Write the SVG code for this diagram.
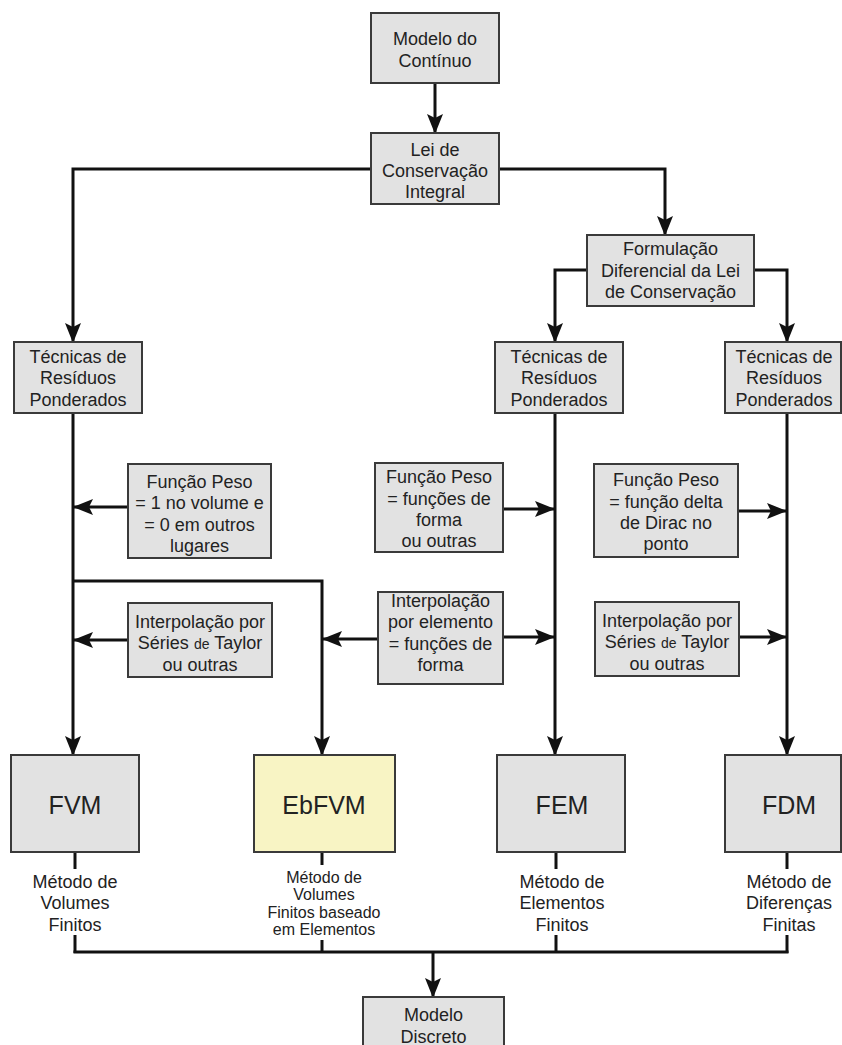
<svg xmlns="http://www.w3.org/2000/svg" width="842" height="1045" viewBox="0 0 842 1045">
  <style>
    .box { fill: #e2e2e2; stroke: #3a3a3a; stroke-width: 2; }
    .hl { fill: #f8f4c4; stroke: #3a3a3a; stroke-width: 2; }
    .t { font-family: "Liberation Sans", Arial, sans-serif; font-size: 18px; fill: #222; text-anchor: middle; }
    .big { font-family: "Liberation Sans", Arial, sans-serif; font-size: 25px; fill: #222; text-anchor: middle; }
    .sm { font-family: "Liberation Sans", Arial, sans-serif; font-size: 16px; fill: #222; text-anchor: middle; }
    .de { font-size: 14px; }
    .ln { fill: none; stroke: #111; stroke-width: 3; }
    .arr { fill: none; stroke: #111; stroke-width: 3; marker-end: url(#head); }
  </style>
  <defs>
    <marker id="head" viewBox="0 0 20 16" refX="19" refY="8" markerWidth="20" markerHeight="16" markerUnits="userSpaceOnUse" orient="auto">
      <path d="M0,0 L20,8 L0,16 L4,8 Z" fill="#111"/>
    </marker>
  </defs>

  <rect width="842" height="1045" fill="#ffffff"/>

  <g id="connectors">
    <line class="arr" x1="435" y1="83" x2="435" y2="133"/>
    <polyline class="arr" points="371,169 73,169 73,342"/>
    <polyline class="arr" points="499,169 665,169 665,235"/>
    <polyline class="arr" points="587,270 555,270 555,342"/>
    <polyline class="arr" points="754,270 787,270 787,342"/>
    <line class="arr" x1="73" y1="413" x2="73" y2="755"/>
    <polyline class="arr" points="73,581 322,581 322,755"/>
    <line class="arr" x1="555" y1="413" x2="555" y2="755"/>
    <line class="arr" x1="787" y1="413" x2="787" y2="755"/>
    <line class="arr" x1="128" y1="507" x2="74" y2="507"/>
    <line class="arr" x1="128" y1="640" x2="74" y2="640"/>
    <line class="arr" x1="378" y1="639" x2="323" y2="639"/>
    <line class="arr" x1="503" y1="637" x2="554" y2="637"/>
    <line class="arr" x1="503" y1="509" x2="554" y2="509"/>
    <line class="arr" x1="738" y1="511" x2="786" y2="511"/>
    <line class="arr" x1="739" y1="637" x2="786" y2="637"/>
    <!-- ticks from method boxes to their captions -->
    <line class="ln" x1="75" y1="852" x2="75" y2="869"/>
    <line class="ln" x1="322" y1="852" x2="322" y2="865"/>
    <line class="ln" x1="556" y1="852" x2="556" y2="869"/>
    <line class="ln" x1="787" y1="852" x2="787" y2="869"/>
    <!-- collector bus to the discrete model -->
    <line class="ln" x1="75" y1="935" x2="75" y2="953"/>
    <line class="ln" x1="322" y1="940" x2="322" y2="953"/>
    <line class="ln" x1="556" y1="935" x2="556" y2="953"/>
    <line class="ln" x1="787" y1="935" x2="787" y2="953"/>
    <line class="ln" x1="73.5" y1="952" x2="788.5" y2="952"/>
    <line class="arr" x1="433" y1="952" x2="433" y2="997"/>
  </g>

  <g id="modelo-continuo">
    <rect class="box" x="371" y="13" width="128" height="70"/>
    <text class="t" x="435" y="45">Modelo do</text>
    <text class="t" x="435" y="67">Contínuo</text>
  </g>

  <g id="lei-integral">
    <rect class="box" x="371" y="133" width="128" height="71"/>
    <text class="t" x="435" y="156">Lei de</text>
    <text class="t" x="435" y="177">Conservação</text>
    <text class="t" x="435" y="198">Integral</text>
  </g>

  <g id="formulacao-diferencial">
    <rect class="box" x="587" y="235" width="167" height="71"/>
    <text class="t" x="670.5" y="255">Formulação</text>
    <text class="t" x="670.5" y="277">Diferencial da Lei</text>
    <text class="t" x="670.5" y="298">de Conservação</text>
  </g>

  <g id="residuos-esq">
    <rect class="box" x="14" y="342" width="128" height="71"/>
    <text class="t" x="78" y="363">Técnicas de</text>
    <text class="t" x="78" y="384">Resíduos</text>
    <text class="t" x="78" y="406">Ponderados</text>
  </g>

  <g id="residuos-meio">
    <rect class="box" x="495" y="342" width="128" height="71"/>
    <text class="t" x="559" y="363">Técnicas de</text>
    <text class="t" x="559" y="384">Resíduos</text>
    <text class="t" x="559" y="406">Ponderados</text>
  </g>

  <g id="residuos-dir">
    <rect class="box" x="725" y="342" width="116" height="71"/>
    <text class="t" x="784" y="363">Técnicas de</text>
    <text class="t" x="784" y="384">Resíduos</text>
    <text class="t" x="784" y="406">Ponderados</text>
  </g>

  <g id="peso-volume">
    <rect class="box" x="128" y="464" width="143" height="94"/>
    <text class="t" x="199.5" y="488">Função Peso</text>
    <text class="t" x="199.5" y="509">= 1 no volume e</text>
    <text class="t" x="199.5" y="531">= 0 em outros</text>
    <text class="t" x="199.5" y="552">lugares</text>
  </g>

  <g id="peso-forma">
    <rect class="box" x="375" y="463" width="128" height="89"/>
    <text class="t" x="439" y="483">Função Peso</text>
    <text class="t" x="439" y="505">= funções de</text>
    <text class="t" x="439" y="526">forma</text>
    <text class="t" x="439" y="547">ou outras</text>
  </g>

  <g id="peso-dirac">
    <rect class="box" x="594" y="464" width="144" height="93"/>
    <text class="t" x="666" y="486">Função Peso</text>
    <text class="t" x="666" y="508">= função delta</text>
    <text class="t" x="666" y="529">de Dirac no</text>
    <text class="t" x="666" y="550">ponto</text>
  </g>

  <g id="taylor-esq">
    <rect class="box" x="128" y="603" width="144" height="74"/>
    <text class="t" x="200" y="628">Interpolação por</text>
    <text class="t" x="200" y="649">Séries <tspan class="de">de</tspan> Taylor</text>
    <text class="t" x="200" y="671">ou outras</text>
  </g>

  <g id="interp-elemento">
    <rect class="box" x="378" y="592" width="125" height="92"/>
    <text class="t" x="440.5" y="607">Interpolação</text>
    <text class="t" x="440.5" y="628">por elemento</text>
    <text class="t" x="440.5" y="650">= funções de</text>
    <text class="t" x="440.5" y="671">forma</text>
  </g>

  <g id="taylor-dir">
    <rect class="box" x="595" y="602" width="144" height="74"/>
    <text class="t" x="667" y="627">Interpolação por</text>
    <text class="t" x="667" y="648">Séries <tspan class="de">de</tspan> Taylor</text>
    <text class="t" x="667" y="670">ou outras</text>
  </g>

  <g id="fvm">
    <rect class="box" x="11" y="755" width="128" height="97"/>
    <text class="big" x="75" y="814">FVM</text>
    <text class="t" x="75" y="888">Método de</text>
    <text class="t" x="75" y="909">Volumes</text>
    <text class="t" x="75" y="931">Finitos</text>
  </g>

  <g id="ebfvm">
    <rect class="hl" x="254" y="755" width="141" height="97"/>
    <text class="big" x="324" y="814">EbFVM</text>
    <text class="sm" x="324" y="883">Método de</text>
    <text class="sm" x="324" y="900">Volumes</text>
    <text class="sm" x="324" y="918">Finitos baseado</text>
    <text class="sm" x="324" y="935">em Elementos</text>
  </g>

  <g id="fem">
    <rect class="box" x="497" y="755" width="128" height="97"/>
    <text class="big" x="562" y="814">FEM</text>
    <text class="t" x="562" y="888">Método de</text>
    <text class="t" x="562" y="909">Elementos</text>
    <text class="t" x="562" y="931">Finitos</text>
  </g>

  <g id="fdm">
    <rect class="box" x="725" y="755" width="116" height="97"/>
    <text class="big" x="789" y="814">FDM</text>
    <text class="t" x="789" y="888">Método de</text>
    <text class="t" x="789" y="909">Diferenças</text>
    <text class="t" x="789" y="931">Finitas</text>
  </g>

  <g id="modelo-discreto">
    <rect class="box" x="363" y="997" width="141" height="60"/>
    <text class="t" x="433.5" y="1021">Modelo</text>
    <text class="t" x="433.5" y="1043">Discreto</text>
  </g>
</svg>
